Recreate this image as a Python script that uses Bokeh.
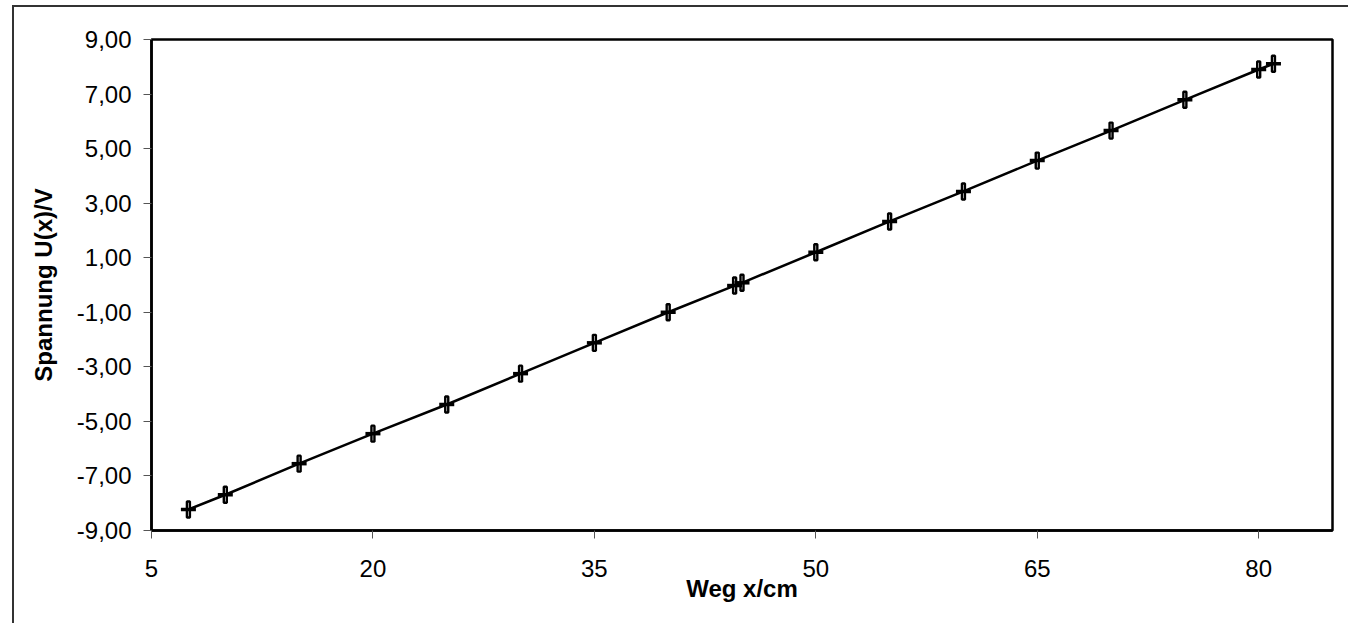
from bokeh.plotting import figure
from bokeh.models import FixedTicker, CustomJSTickFormatter, Range1d
from bokeh.embed import file_html
from bokeh.resources import INLINE

# Data
weg_cm = [7.5, 10, 15, 20, 25, 30, 35, 40, 44.5, 45, 50, 55, 60, 65, 70, 75, 80, 81]
spannung_v = [-8.23, -7.69, -6.55, -5.45, -4.38, -3.25, -2.12, -1.00, -0.02, 0.08,
              1.20, 2.33, 3.43, 4.56, 5.66, 6.79, 7.90, 8.11]
x_ticks = [5, 20, 35, 50, 65, 80]
y_ticks = [-9, -7, -5, -3, -1, 1, 3, 5, 7, 9]

# canvas starts at x=14, y=7 (after 12/5 px margin and 2 px border)
W, H = 1336, 618
p = figure(width=W, height=H, output_backend="svg", toolbar_location=None,
           x_range=Range1d(5, 85), y_range=Range1d(-9, 9),
           min_border_left=137, min_border_right=18, min_border_top=32, min_border_bottom=95)
p.styles = {"border-left": "2px solid #333333", "border-top": "2px solid #333333",
            "margin-left": "12px", "margin-top": "5px"}
p.background_fill_color = "white"
p.border_fill_color = "white"
p.grid.visible = False
p.outline_line_color = "black"
p.outline_line_width = 2.5

FONT = "Liberation Sans"
for ax in (p.xaxis[0], p.yaxis[0]):
    ax.axis_line_color = "black"
    ax.axis_line_width = 2.5
    ax.major_tick_line_color = "#555555"
    ax.major_tick_line_width = 1
    ax.major_tick_in = 0
    ax.major_tick_out = 8
    ax.minor_tick_line_color = None
    ax.major_label_text_font = FONT
    ax.major_label_text_font_size = "24px"
    ax.major_label_text_color = "black"
    ax.axis_label_text_font = FONT
    ax.axis_label_text_font_size = "24px"
    ax.axis_label_text_font_style = "bold"
    ax.axis_label_text_color = "black"

p.xaxis.ticker = FixedTicker(ticks=x_ticks)
p.yaxis.ticker = FixedTicker(ticks=y_ticks)
p.yaxis.formatter = CustomJSTickFormatter(code="return tick.toFixed(2).replace('.', ',');")
p.xaxis.axis_label = "Weg x/cm"
p.yaxis.axis_label = "Spannung U(x)/V"
p.xaxis.major_label_standoff = 21
p.xaxis.axis_label_standoff = -5
p.yaxis.major_label_standoff = 12
p.yaxis.axis_label_standoff = 17

p.line(weg_cm, spannung_v, line_color="black", line_width=2.5)
p.rect(weg_cm, spannung_v, width=3, height=16, width_units="screen", height_units="screen",
       fill_color=None, line_color="black", line_width=2.4)
p.scatter(weg_cm, spannung_v, marker="dash", size=15, line_color="black", line_width=3.5)

open("out.html", "w").write(file_html(p, INLINE))
